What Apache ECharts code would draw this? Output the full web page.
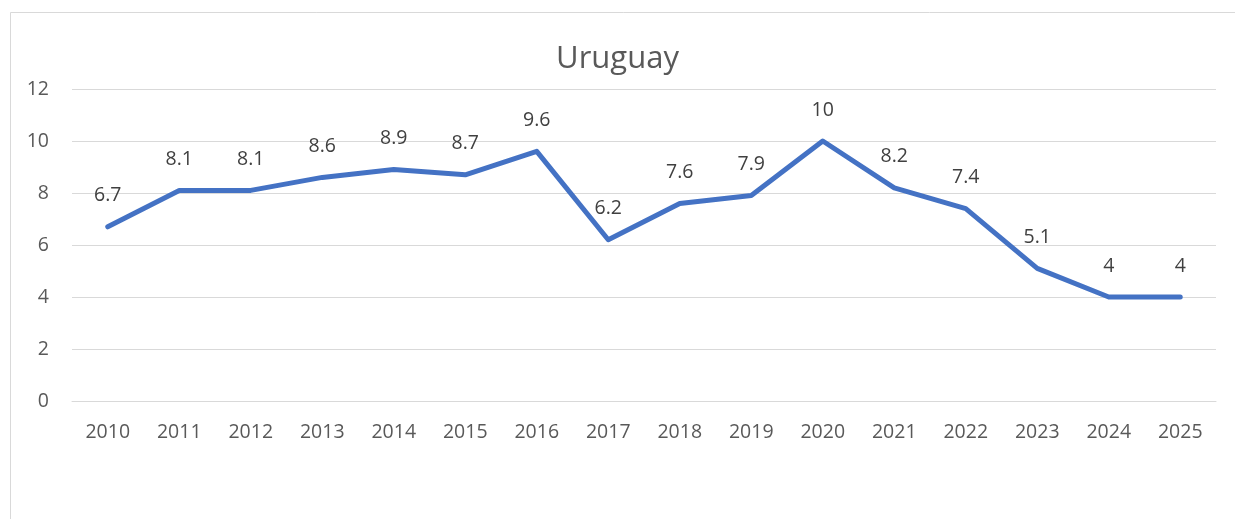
<!DOCTYPE html>
<html><head><meta charset="utf-8">
<script src="https://cdn.jsdelivr.net/npm/echarts@6/dist/echarts.min.js"></script>
<style>html,body{margin:0;padding:0;background:#fff}#c{width:1235px;height:519px}</style>
</head><body><div id="c"></div>
<script>
const titleText = 'Uruguay';
const years = ['2010','2011','2012','2013','2014','2015','2016','2017','2018','2019','2020','2021','2022','2023','2024','2025'];
const values = [6.7, 8.1, 8.1, 8.6, 8.9, 8.7, 9.6, 6.2, 7.6, 7.9, 10, 8.2, 7.4, 5.1, 4, 4];
const yTicks = {min: 0, max: 12, interval: 2};
const font = '"Open Sans", "Liberation Sans", sans-serif';
const chart = echarts.init(document.getElementById('c'), null, {renderer: 'canvas'});
chart.setOption({
  animation: false,
  backgroundColor: '#fff',
  graphic: [{type: 'rect', shape: {x: 10.5, y: 12.5, width: 1240, height: 520}, style: {fill: 'none', stroke: '#d9d9d9', lineWidth: 1}}],
  title: {text: titleText, left: 'center', top: 39, textStyle: {fontFamily: font, fontSize: 31, fontWeight: 'normal', color: '#595959'}},
  grid: {left: 72, right: 19, top: 89, bottom: 118, containLabel: false},
  xAxis: {type: 'category', data: years, boundaryGap: true,
    axisLine: {show: true, lineStyle: {color: '#d9d9d9', width: 1}}, axisTick: {show: false},
    axisLabel: {color: '#595959', fontFamily: font, fontSize: 19.5, margin: 21}},
  yAxis: {type: 'value', min: yTicks.min, max: yTicks.max, interval: yTicks.interval,
    axisLine: {show: false}, axisTick: {show: false},
    splitLine: {lineStyle: {color: '#d9d9d9', width: 1}},
    axisLabel: {color: '#595959', fontFamily: font, fontSize: 19.5, margin: 23}},
  series: [{type: 'line', data: values, symbol: 'circle', symbolSize: 2, showSymbol: true,
    itemStyle: {color: 'rgba(0,0,0,0)', borderWidth: 0},
    lineStyle: {color: '#4472C4', width: 5, cap: 'round', join: 'round'},
    labelLayout: {hideOverlap: false},
    label: {show: true, position: 'top', distance: 20, color: '#404040', fontFamily: font, fontSize: 19.5}}]
});
</script></body></html>
